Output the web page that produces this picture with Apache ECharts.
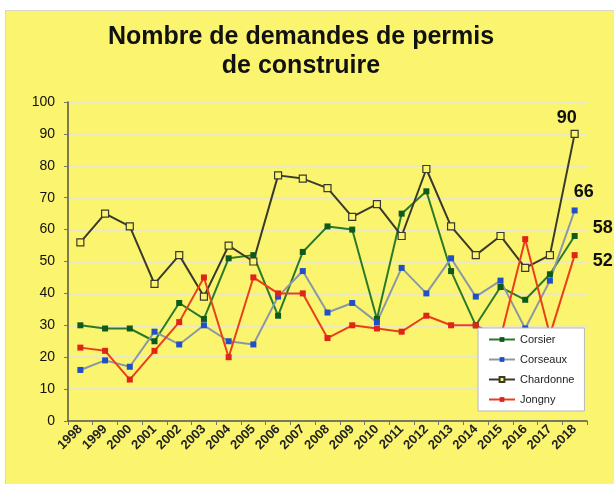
<!DOCTYPE html>
<html>
<head>
<meta charset="utf-8">
<script src="https://cdn.jsdelivr.net/npm/echarts@6/dist/echarts.min.js"></script>
<style>
	body { margin: 0; background: #fff; }
	#chart { position: absolute; left: 5px; top: 10px; width: 609px; height: 474px; background: #fbf46e; border-left: 1px solid #d8d8c8; border-top: 1px solid #d8d8c8; box-sizing: border-box; }
</style>
</head>
<body>
<div id="chart"></div>
<script>
var years = ["1998", "1999", "2000", "2001", "2002", "2003", "2004", "2005", "2006", "2007", "2008", "2009", "2010", "2011", "2012", "2013", "2014", "2015", "2016", "2017", "2018"];
var corsier = [30, 29, 29, 25, 37, 32, 51, 52, 33, 53, 61, 60, 32, 65, 72, 47, 30, 42, 38, 46, 58];
var corseaux = [16, 19, 17, 28, 24, 30, 25, 24, 39, 47, 34, 37, 31, 48, 40, 51, 39, 44, 29, 44, 66];
var chardonne = [56, 65, 61, 43, 52, 39, 55, 50, 77, 76, 73, 64, 68, 58, 79, 61, 52, 58, 48, 52, 90];
var jongny = [23, 22, 13, 22, 31, 45, 20, 45, 40, 40, 26, 30, 29, 28, 33, 30, 30, 26, 57, 27, 52];

// étiquette seulement sur la dernière valeur
var lastLabel = function(values, pos, off) {
	return values.map(function(v, i) {
		if (i !== values.length - 1) return v;
		return {
			value: v,
			label: {
				show: true,
				position: pos,
				offset: off,
				fontSize: 18,
				fontWeight: 'bold',
				color: '#111',
				fontFamily: 'Liberation Sans'
			}
		};
	});
};

var option = {
	animation: false,
	title: {
		text: 'Nombre de demandes de permis\nde construire',
		left: 290,
		top: 7,
		textAlign: 'center',
		textStyle: {
			fontFamily: 'Liberation Sans',
			fontSize: 25,
			fontWeight: 'bold',
			color: '#111',
			lineHeight: 29
		}
	},
	legend: {
		orient: 'vertical',
		left: 472,
		top: 317,
		backgroundColor: '#fff',
		borderColor: '#b8b8b8',
		borderWidth: 1,
		borderRadius: 0,
		padding: [6, 10, 6, 10],
		itemWidth: 26,
		itemHeight: 6,
		itemGap: 9,
		textStyle: { fontFamily: 'Liberation Sans', fontSize: 11, color: '#222' },
		data: ['Corsier', 'Corseaux', 'Chardonne', 'Jongny']
	},
	grid: {
		left: 62,
		right: 27,
		top: 91,
		bottom: 63
	},
	xAxis: {
		type: 'category',
		data: years,
		boundaryGap: true,
		axisLine: { lineStyle: { color: '#555540', width: 1.5 } },
		axisTick: { show: true, length: 4, lineStyle: { color: '#777760' } },
		axisLabel: {
			rotate: 45,
			interval: 0,
			margin: 6,
			fontFamily: 'Liberation Sans',
			fontSize: 13,
			fontWeight: 'bold',
			color: '#222'
		}
	},
	yAxis: {
		type: 'value',
		min: 0,
		max: 100,
		interval: 10,
		axisLine: { show: true, lineStyle: { color: '#555540', width: 1.5 } },
		axisTick: { show: true, length: 4, lineStyle: { color: '#777760' } },
		axisLabel: {
			margin: 13,
			fontFamily: 'Liberation Sans',
			fontSize: 14,
			color: '#111'
		},
		splitLine: { lineStyle: { color: '#ebe8c4', width: 2 } }
	},
	series: [{
		name: 'Corsier',
		type: 'line',
		symbol: 'rect',
		symbolSize: 6,
		data: lastLabel(corsier, 'right', [10, -8]),
		lineStyle: { color: '#2a7a2a', width: 2 },
		itemStyle: { color: '#0e5a1c' }
	}, {
		name: 'Corseaux',
		type: 'line',
		symbol: 'rect',
		symbolSize: 6,
		data: lastLabel(corseaux, 'top', [9, -1]),
		lineStyle: { color: '#8a98a6', width: 2 },
		itemStyle: { color: '#2050c8' }
	}, {
		name: 'Chardonne',
		type: 'line',
		symbol: 'rect',
		symbolSize: 7,
		data: lastLabel(chardonne, 'top', [-8, 2]),
		lineStyle: { color: '#3a3a2c', width: 2 },
		itemStyle: { color: '#fbf46e', borderColor: '#3a3a2c', borderWidth: 1.2 }
	}, {
		name: 'Jongny',
		type: 'line',
		symbol: 'rect',
		symbolSize: 6,
		data: lastLabel(jongny, 'right', [10, 6]),
		lineStyle: { color: '#e8401c', width: 2 },
		itemStyle: { color: '#e02418' }
	}]
};

var myChart = echarts.init(document.getElementById('chart'));
myChart.setOption(option);
</script>
</body>
</html>
